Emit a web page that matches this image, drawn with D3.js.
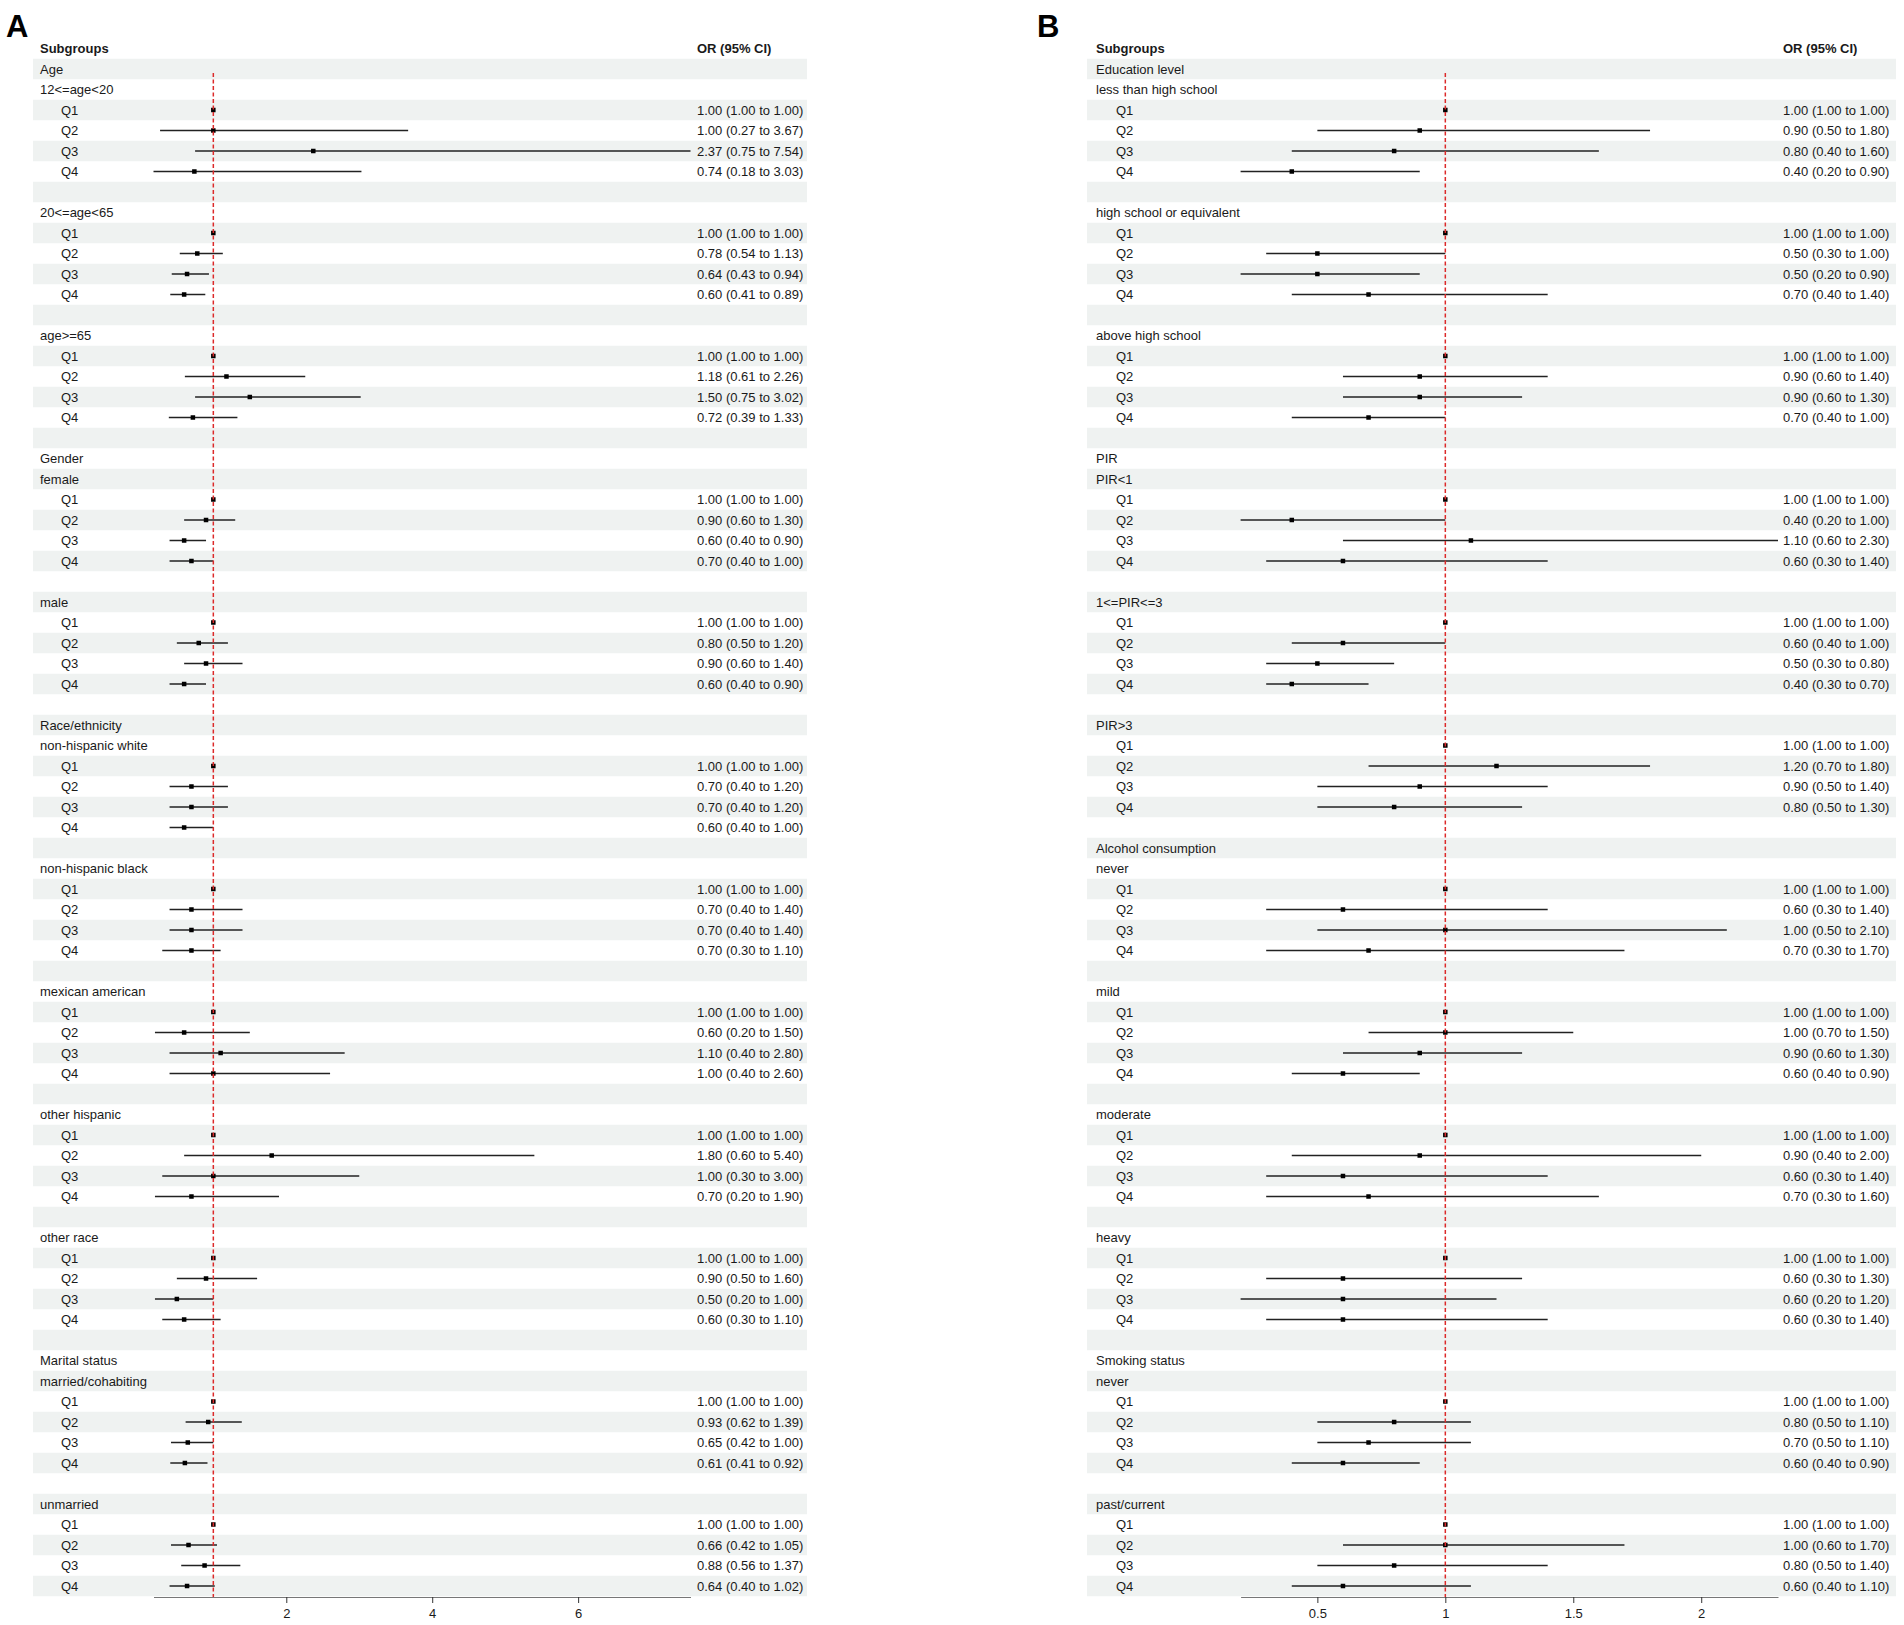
<!DOCTYPE html>
<html>
<head>
<meta charset="utf-8">
<script src="https://cdn.jsdelivr.net/npm/d3@7"></script>
<style>
  body { margin: 0; background: #fff; }
  text { font-family: "Liberation Sans", Arial, sans-serif; fill: #1a1a1a; }
</style>
</head>
<body>
<div id="chart"></div>
<script>
// quartile labels shared by both panels
const quartiles = ["Q1", "Q2", "Q3", "Q4"];

// Panel A: category name and how many subgroups it holds
const categoriesA = [["Age", 3], ["Gender", 2], ["Race/ethnicity", 5], ["Marital status", 2]];
const subgroupsA = ["12<=age<20", "20<=age<65", "age>=65", "female", "male",
  "non-hispanic white", "non-hispanic black", "mexican american", "other hispanic", "other race",
  "married/cohabiting", "unmarried"];
const orA = [
  [1.00, 1.00, 2.37, 0.74], [1.00, 0.78, 0.64, 0.60], [1.00, 1.18, 1.50, 0.72],
  [1.00, 0.90, 0.60, 0.70], [1.00, 0.80, 0.90, 0.60],
  [1.00, 0.70, 0.70, 0.60], [1.00, 0.70, 0.70, 0.70], [1.00, 0.60, 1.10, 1.00],
  [1.00, 1.80, 1.00, 0.70], [1.00, 0.90, 0.50, 0.60],
  [1.00, 0.93, 0.65, 0.61], [1.00, 0.66, 0.88, 0.64]
];
const lowA = [
  [1.00, 0.27, 0.75, 0.18], [1.00, 0.54, 0.43, 0.41], [1.00, 0.61, 0.75, 0.39],
  [1.00, 0.60, 0.40, 0.40], [1.00, 0.50, 0.60, 0.40],
  [1.00, 0.40, 0.40, 0.40], [1.00, 0.40, 0.40, 0.30], [1.00, 0.20, 0.40, 0.40],
  [1.00, 0.60, 0.30, 0.20], [1.00, 0.50, 0.20, 0.30],
  [1.00, 0.62, 0.42, 0.41], [1.00, 0.42, 0.56, 0.40]
];
const highA = [
  [1.00, 3.67, 7.54, 3.03], [1.00, 1.13, 0.94, 0.89], [1.00, 2.26, 3.02, 1.33],
  [1.00, 1.30, 0.90, 1.00], [1.00, 1.20, 1.40, 0.90],
  [1.00, 1.20, 1.20, 1.00], [1.00, 1.40, 1.40, 1.10], [1.00, 1.50, 2.80, 2.60],
  [1.00, 5.40, 3.00, 1.90], [1.00, 1.60, 1.00, 1.10],
  [1.00, 1.39, 1.00, 0.92], [1.00, 1.05, 1.37, 1.02]
];
const ticksA = [2, 4, 6];

// Panel B
const categoriesB = [["Education level", 3], ["PIR", 3], ["Alcohol consumption", 4], ["Smoking status", 2]];
const subgroupsB = ["less than high school", "high school or equivalent", "above high school",
  "PIR<1", "1<=PIR<=3", "PIR>3", "never", "mild", "moderate", "heavy", "never", "past/current"];
const orB = [
  [1.00, 0.90, 0.80, 0.40], [1.00, 0.50, 0.50, 0.70], [1.00, 0.90, 0.90, 0.70],
  [1.00, 0.40, 1.10, 0.60], [1.00, 0.60, 0.50, 0.40], [1.00, 1.20, 0.90, 0.80],
  [1.00, 0.60, 1.00, 0.70], [1.00, 1.00, 0.90, 0.60], [1.00, 0.90, 0.60, 0.70],
  [1.00, 0.60, 0.60, 0.60], [1.00, 0.80, 0.70, 0.60], [1.00, 1.00, 0.80, 0.60]
];
const lowB = [
  [1.00, 0.50, 0.40, 0.20], [1.00, 0.30, 0.20, 0.40], [1.00, 0.60, 0.60, 0.40],
  [1.00, 0.20, 0.60, 0.30], [1.00, 0.40, 0.30, 0.30], [1.00, 0.70, 0.50, 0.50],
  [1.00, 0.30, 0.50, 0.30], [1.00, 0.70, 0.60, 0.40], [1.00, 0.40, 0.30, 0.30],
  [1.00, 0.30, 0.20, 0.30], [1.00, 0.50, 0.50, 0.40], [1.00, 0.60, 0.50, 0.40]
];
const highB = [
  [1.00, 1.80, 1.60, 0.90], [1.00, 1.00, 0.90, 1.40], [1.00, 1.40, 1.30, 1.00],
  [1.00, 1.00, 2.30, 1.40], [1.00, 1.00, 0.80, 0.70], [1.00, 1.80, 1.40, 1.30],
  [1.00, 1.40, 2.10, 1.70], [1.00, 1.50, 1.30, 0.90], [1.00, 2.00, 1.40, 1.60],
  [1.00, 1.30, 1.20, 1.40], [1.00, 1.10, 1.10, 0.90], [1.00, 1.70, 1.40, 1.10]
];
const ticksB = [0.5, 1, 1.5, 2];

// turn the arrays into table rows: category, subgroup, Q1..Q4, blank spacer
function buildRows(categories, subgroups, or, low, high) {
  const rows = [];
  let s = 0;
  categories.forEach(([name, n]) => {
    for (let k = 0; k < n; k++, s++) {
      if (rows.length) rows.push({ type: "blank" });
      if (k === 0) rows.push({ type: "label", text: name });
      rows.push({ type: "label", text: subgroups[s] });
      quartiles.forEach((q, j) => rows.push({
        type: "est", text: q, or: or[s][j], lo: low[s][j], hi: high[s][j]
      }));
    }
  });
  return rows;
}

const W = 1904, H = 1625;
const svg = d3.select("#chart").append("svg")
  .attr("width", W).attr("height", H)
  .attr("viewBox", `0 0 ${W} ${H}`);

const rowH = 20.5;
const top0 = 38.25;

function drawPanel(p) {
  const rows = buildRows(p.categories, p.subgroups, p.or, p.low, p.high);
  const y = d3.scaleBand().domain(d3.range(rows.length + 1))
    .range([top0, top0 + (rows.length + 1) * rowH]);
  const cy = i => y(i) + y.bandwidth() / 2;

  const est = rows.filter(r => r.type === "est");
  const x = d3.scaleLinear()
    .domain([d3.min(est, d => d.lo), d3.max(est, d => d.hi)])
    .range(p.xRange);

  const g = svg.append("g");

  // panel letter
  g.append("text").attr("x", p.letterX).attr("y", 37)
    .style("font-size", "31px").style("font-weight", "bold").style("fill", "#000")
    .text(p.letter);

  // striped row backgrounds (odd rows shaded)
  g.selectAll("rect.band").data(rows.map((r, i) => i + 1).filter(i => i % 2 === 1))
    .join("rect").attr("class", "band")
    .attr("x", p.bandX[0]).attr("width", p.bandX[1] - p.bandX[0])
    .attr("y", i => y(i)).attr("height", y.bandwidth())
    .attr("fill", "#eff2f1");

  // header
  g.append("text").attr("x", p.labelX).attr("y", cy(0)).attr("dy", "0.35em")
    .style("font-size", "13px").style("font-weight", "bold").text("Subgroups");
  g.append("text").attr("x", p.textX).attr("y", cy(0)).attr("dy", "0.35em")
    .style("font-size", "13px").style("font-weight", "bold").text("OR (95% CI)");

  // left labels
  g.selectAll("text.lab").data(rows.map((r, i) => ({ ...r, i: i + 1 })).filter(r => r.type !== "blank"))
    .join("text").attr("class", "lab")
    .attr("x", d => d.type === "est" ? p.qX : p.labelX)
    .attr("y", d => cy(d.i)).attr("dy", "0.35em")
    .style("font-size", "13px")
    .text(d => d.text);

  const estRows = rows.map((r, i) => ({ ...r, i: i + 1 })).filter(r => r.type === "est");

  // CI lines
  g.selectAll("line.ci").data(estRows).join("line").attr("class", "ci")
    .attr("x1", d => x(d.lo)).attr("x2", d => x(d.hi))
    .attr("y1", d => cy(d.i)).attr("y2", d => cy(d.i))
    .attr("stroke", "#222").attr("stroke-width", 1.3);

  // point estimates
  const box = 4.5;
  g.selectAll("rect.pt").data(estRows).join("rect").attr("class", "pt")
    .attr("x", d => x(d.or) - box / 2).attr("y", d => cy(d.i) - box / 2)
    .attr("width", box).attr("height", box).attr("fill", "#000");

  // OR text column
  g.selectAll("text.or").data(estRows).join("text").attr("class", "or")
    .attr("x", p.textX).attr("y", d => cy(d.i)).attr("dy", "0.35em")
    .style("font-size", "13px")
    .text(d => `${d.or.toFixed(2)} (${d.lo.toFixed(2)} to ${d.hi.toFixed(2)})`);

  const axisY = y(rows.length) + y.bandwidth() + 0.75;

  // reference line at OR = 1
  g.append("line")
    .attr("x1", x(1)).attr("x2", x(1))
    .attr("y1", cy(1) + 4).attr("y2", axisY)
    .attr("stroke", "#dc2a2a").attr("stroke-width", 1.5)
    .attr("stroke-dasharray", "4,2.5");

  // x axis
  const ax = g.append("g").attr("transform", `translate(0,${axisY})`)
    .call(d3.axisBottom(x).tickValues(p.ticks).tickFormat(d3.format("~g"))
      .tickSize(6).tickSizeOuter(0));
  ax.select(".domain").attr("stroke", "#777");
  ax.selectAll(".tick line").attr("stroke", "#333");
  ax.selectAll(".tick text")
    .style("font-family", "'Liberation Sans', Arial, sans-serif")
    .style("font-size", "13px").attr("fill", "#1a1a1a").attr("dy", "0.9em");
}

drawPanel({
  letter: "A", letterX: 6,
  categories: categoriesA, subgroups: subgroupsA, or: orA, low: lowA, high: highA,
  ticks: ticksA, bandX: [33, 807], labelX: 40, qX: 61,
  xRange: [153.5, 690.5], textX: 697
});

drawPanel({
  letter: "B", letterX: 1037,
  categories: categoriesB, subgroups: subgroupsB, or: orB, low: lowB, high: highB,
  ticks: ticksB, bandX: [1087, 1896], labelX: 1096, qX: 1116,
  xRange: [1240.6, 1778], textX: 1783
});
</script>
</body>
</html>
